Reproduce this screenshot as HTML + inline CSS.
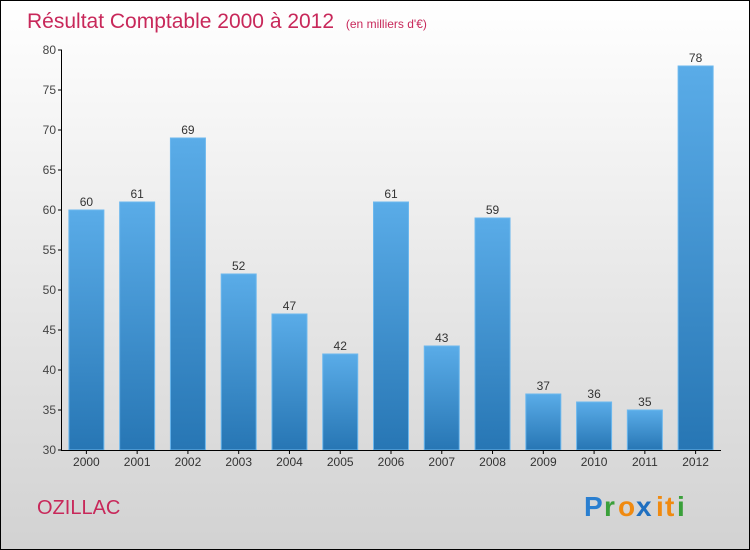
<!DOCTYPE html>
<html><head><meta charset="utf-8"><style>
body{margin:0}
#c{width:750px;height:550px;position:relative;box-sizing:border-box;border:1px solid #000;background:linear-gradient(#ffffff,#d2d2d2);font-family:"Liberation Sans",sans-serif;overflow:hidden}
</style></head><body>
<div id="c">
<svg id="s" width="748" height="548" style="position:absolute;left:0;top:0">
<defs><linearGradient id="g" x1="0" y1="0" x2="0" y2="1"><stop offset="0" stop-color="#5aace8"/><stop offset="1" stop-color="#2776b4"/></linearGradient></defs>
<text x="26" y="27" font-size="21" fill="#c8285a">Résultat Comptable 2000 à 2012 <tspan font-size="12" dx="6">(en milliers d'€)</tspan></text>
<text x="36" y="513" font-size="20" fill="#c8285a">OZILLAC</text>
<g font-size="28" font-weight="bold">
<text x="583" y="515" fill="#2a7fd0">P</text><text x="603" y="515" fill="#3aa03a">r</text><text x="617" y="515" fill="#f08a10">o</text><text x="635" y="515" fill="#1f6fc0">x</text><text x="655" y="515" fill="#f08a10">i</text><text x="664" y="515" fill="#f08a10">t</text><text x="676" y="515" fill="#3aa03a">i</text>
</g>
<g id="plot"></g>
</svg>
</div>
<script>
const categories=["2000","2001","2002","2003","2004","2005","2006","2007","2008","2009","2010","2011","2012"];
const values=[60,61,69,52,47,42,61,43,59,37,36,35,78];
const yTicks=[30,35,40,45,50,55,60,65,70,75,80];
const ns="http://www.w3.org/2000/svg";
const g=document.getElementById('plot');
const x0=60,x1=720,yB=449,yT=49,vmin=30,vmax=80;
const y=v=>yB-(v-vmin)/(vmax-vmin)*(yB-yT);
const step=(x1-x0)/categories.length;
const xc=i=>x0+step*(i+0.5);
function mk(t,a){const e=document.createElementNS(ns,t);for(const k in a)e.setAttribute(k,a[k]);g.appendChild(e);return e;}
values.forEach((v,i)=>{
 const r=mk('rect',{x:xc(i)-17.5,y:y(v),width:35,height:yB-y(v),fill:'url(#g)',stroke:'#6cb8ee','stroke-width':1});
 
 
 const t=mk('text',{x:xc(i),y:y(v)-4,'text-anchor':'middle','font-size':12,fill:'#333'});t.textContent=v;
 
 
 const l=mk('text',{x:xc(i),y:yB+16,'text-anchor':'middle','font-size':12,fill:'#333'});l.textContent=categories[i];
 
 
 const tk=mk('line',{x1:xc(i),x2:xc(i),y1:yB,y2:yB+4,stroke:'#000'});
 
 
});
yTicks.forEach(v=>{
 const t=mk('text',{x:55,y:y(v)+4,'text-anchor':'end','font-size':12,fill:'#444'});t.textContent=v;
 
 
 const tk=mk('line',{x1:57,x2:61,y1:y(v),y2:y(v),stroke:'#000'});
 
 
});
const ya=mk('line',{x1:60.5,x2:60.5,y1:yT,y2:yB,stroke:'#000'});


const xa=mk('line',{x1:60,x2:x1,y1:yB+0.5,y2:yB+0.5,stroke:'#000'});


</script>
</body></html>
